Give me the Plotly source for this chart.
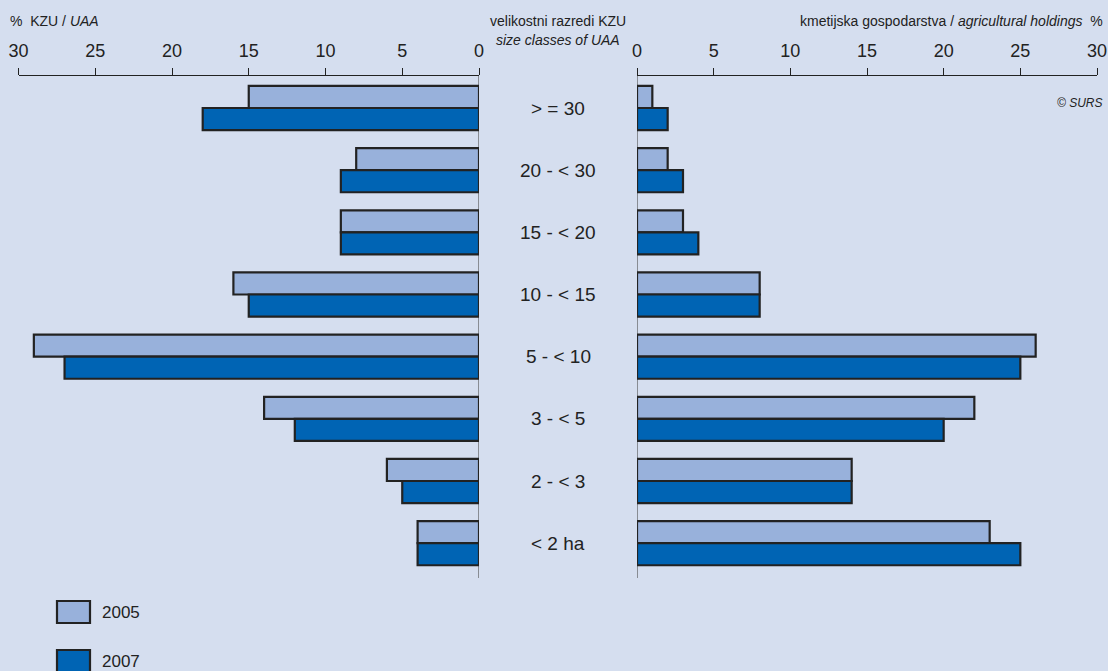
import plotly.graph_objects as go

categories = ["> = 30", "20 - < 30", "15 - < 20", "10 - < 15", "5 - < 10", "3 - < 5", "2 - < 3", "< 2 ha"]
uaa_2005 = [15, 8, 9, 16, 29, 14, 6, 4]
uaa_2007 = [18, 9, 9, 15, 27, 12, 5, 4]
hold_2005 = [1, 2, 3, 8, 26, 22, 14, 23]
hold_2007 = [2, 3, 4, 8, 25, 20, 14, 25]
years = ["2005", "2007"]
ticks = [0, 5, 10, 15, 20, 25, 30]

W, H = 1108, 671
BG = "#d5deef"
C05 = "#98b1db"
C07 = "#0064b4"
EDGE = "#222222"
FONT = "Liberation Sans, Arial, sans-serif"

def px(x):
    return x / W

def py(y):
    return 1 - y / H

fig = go.Figure()
for vals, name, col in [(uaa_2005, years[0], C05), (uaa_2007, years[1], C07)]:
    fig.add_trace(go.Bar(y=categories, x=vals, orientation="h", name=name,
                         marker=dict(color=col, line=dict(color=EDGE, width=2.2)),
                         xaxis="x", yaxis="y", offsetgroup=name, showlegend=False))
for vals, name, col in [(hold_2005, years[0], C05), (hold_2007, years[1], C07)]:
    fig.add_trace(go.Bar(y=categories, x=vals, orientation="h", name=name,
                         marker=dict(color=col, line=dict(color=EDGE, width=2.2)),
                         xaxis="x2", yaxis="y", offsetgroup=name, showlegend=False))

ydom = [py(578), py(76)]
axcommon = dict(side="top", anchor="y", ticks="outside", ticklen=7, tickwidth=1.2,
                tickcolor="#222", showline=True, linecolor="#222", linewidth=1.2,
                showgrid=False, zeroline=False, tickvals=ticks, automargin=False,
                ticklabelstandoff=4,
                tickfont=dict(family=FONT, size=18, color="#222"), fixedrange=True)
fig.update_layout(
    width=W, height=H, autosize=False, margin=dict(l=0, r=0, t=0, b=0, pad=0),
    paper_bgcolor=BG, plot_bgcolor=BG,
    barmode="group", bargap=0.29, bargroupgap=0,
    xaxis=dict(domain=[px(18.5), px(479)], range=[30, 0], **axcommon),
    xaxis2=dict(domain=[px(637), px(1097)], range=[0, 30], **axcommon),
    yaxis=dict(domain=ydom, type="category", categoryarray=categories, automargin=False,
               range=[7.56, -0.515], showticklabels=False, showgrid=False,
               zeroline=False, showline=False, fixedrange=True),
    showlegend=False,
)

# zero lines
for xr in ["x", "x2"]:
    fig.add_shape(type="line", xref=xr, yref="paper", x0=0, x1=0, y0=ydom[0], y1=ydom[1],
                  line=dict(color="#555", width=1.2), layer="below")

# category labels
for c in categories:
    fig.add_annotation(x=px(558), y=c, xref="paper", yref="y", text=c, showarrow=False,
                       font=dict(family=FONT, size=19, color="#222"), xanchor="center", yanchor="middle")

# titles
tfont = dict(family=FONT, size=14, color="#222")
fig.add_annotation(x=px(8), y=py(21), xref="paper", yref="paper", text="%  KZU / <i>UAA</i>",
                   showarrow=False, xanchor="left", yanchor="middle", font=tfont)
fig.add_annotation(x=px(558), y=py(21), xref="paper", yref="paper", text="velikostni razredi KZU",
                   showarrow=False, xanchor="center", yanchor="middle", font=tfont)
fig.add_annotation(x=px(558), y=py(40), xref="paper", yref="paper", text="<i>size classes of UAA</i>",
                   showarrow=False, xanchor="center", yanchor="middle", font=tfont)
fig.add_annotation(x=px(1105), y=py(21), xref="paper", yref="paper",
                   text="kmetijska gospodarstva / <i>agricultural holdings</i>  %",
                   showarrow=False, xanchor="right", yanchor="middle", font=tfont)
fig.add_annotation(x=px(1105), y=py(103), xref="paper", yref="paper", text="<i>© SURS</i>",
                   showarrow=False, xanchor="right", yanchor="middle",
                   font=dict(family=FONT, size=12, color="#222"))

# legend
for i, (yr, col) in enumerate(zip(years, [C05, C07])):
    top = 601 + i * 49
    fig.add_shape(type="rect", xref="paper", yref="paper", x0=px(57), x1=px(90),
                  y0=py(top + 22), y1=py(top), fillcolor=col, line=dict(color=EDGE, width=2.2))
    fig.add_annotation(x=px(100), y=py(top + 11), xref="paper", yref="paper", text=yr,
                       showarrow=False, xanchor="left", yanchor="middle",
                       font=dict(family=FONT, size=17, color="#222"))

post = ("document.documentElement.style.margin='0';document.body.style.margin='0';"
        "document.body.style.padding='0';document.documentElement.style.overflow='hidden';"
        "document.body.style.overflow='hidden';")
fig.write_html("out.html", config={"responsive": False, "displayModeBar": False}, post_script=post)
